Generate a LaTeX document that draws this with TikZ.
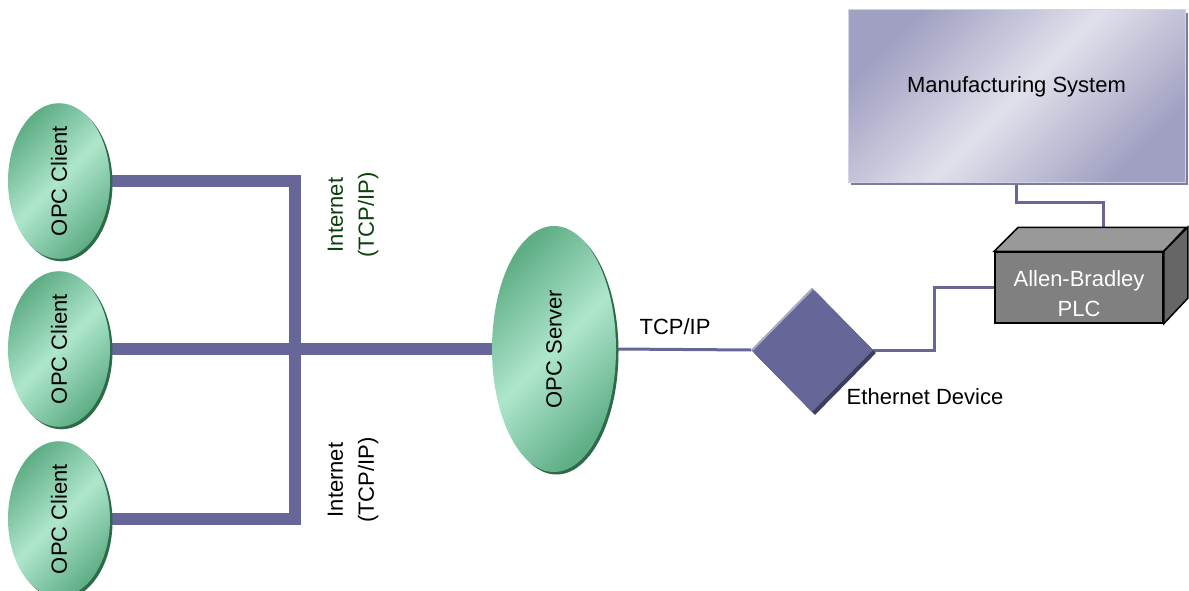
\documentclass[tikz,border=0pt]{standalone}
\usepackage{fontspec}
\setmainfont{Liberation Sans}
\usepackage{graphicx}
\usetikzlibrary{shapes.geometric,shadows,calc}
\pgfdeclarelayer{bg}
\pgfsetlayers{bg,main}
\definecolor{netcol}{HTML}{666699}
\definecolor{glight}{HTML}{AEE6CC}
\definecolor{gdark}{HTML}{5FAE86}
\definecolor{gshadow}{HTML}{2C6A48}
\definecolor{lavdark}{HTML}{A0A0C2}
\definecolor{lavlight}{HTML}{E0E0EB}
\definecolor{lavshadow}{HTML}{7C7CA0}
\definecolor{inetgreen}{HTML}{0B3F0B}
\begin{document}
\begin{tikzpicture}[x=1pt,y=-1pt,
  lbl/.style={font=\fontsize{22}{24}\selectfont},
  twoline/.style={font=\fontsize{22}{31}\selectfont, align=center},
  greenoval/.style={ellipse, inner sep=0pt, lbl,
    left color=gdark, right color=gdark, middle color=glight, shading angle=45,
    general shadow={fill=gshadow, shadow xshift=2.5pt, shadow yshift=-2.5pt}},
  client/.style={greenoval, minimum width=102pt, minimum height=148pt},
  server/.style={greenoval, minimum width=124pt, minimum height=246pt},
  trunk/.style={draw=netcol, line width=12pt, line join=miter},
  wire/.style={draw=netcol, line width=3pt},
  device/.style={diamond, aspect=1, inner sep=0pt, minimum width=122pt, minimum height=124pt,
    fill=netcol, general shadow={fill=netcol!60!black, shadow xshift=3pt, shadow yshift=-3pt}},
  plcface/.style={draw=black, line width=1.5pt, line join=miter},
]
\useasboundingbox (0,0) rectangle (1189,591);

% clients and server
\node[client] (c1) at (59,181) {\rotatebox{90}{OPC Client}};
\node[client] (c2) at (59,349) {\rotatebox{90}{OPC Client}};
\node[client] (c3) at (59,519) {\rotatebox{90}{OPC Client}};
\node[server] (srv) at (554,349) {\rotatebox{90}{OPC Server}};

% internet trunk
\coordinate (bt) at (295,181);
\coordinate (bb) at (295,519);
\begin{pgfonlayer}{bg}
  \draw[trunk] (c1.east) -- (bt) -- (bb) -- (c3.east);
  \draw[trunk] (c2.east) -- (srv.west);
\end{pgfonlayer}

\node[twoline, rotate=90, text=inetgreen] (inet1) at (353,215) {Internet\\(TCP/IP)};
\node[twoline, rotate=90] (inet2) at (353,480) {Internet\\(TCP/IP)};

% ethernet device
\node[device] (dev) at (812,350) {};
\draw[draw=netcol!55!white, line width=2pt] ($(dev.west)+(1.5,0)$) -- ($(dev.north)+(0,1.5)$);
\node[lbl] (tcp) at (675,327) {TCP/IP};
\node[lbl] (devlbl) at (925,397) {Ethernet Device};

% manufacturing system
\node[rectangle, minimum width=337pt, minimum height=172pt, inner sep=0pt,
  draw=lavlight!80!lavdark, line width=1pt,
  left color=lavdark, right color=lavdark, middle color=lavlight, shading angle=45,
  general shadow={fill=lavshadow, shadow xshift=3pt, shadow yshift=-3pt},
  lbl] (ms) at (1016.5,96) {\raisebox{3pt}[0pt][0pt]{Manufacturing System}};

% PLC block
\node[rectangle, plcface, fill=black!50, minimum width=168pt, minimum height=71pt,
  inner sep=0pt, text=white, lbl]
  (plc) at (1079,287.5)
  {\raisebox{-14pt}[0pt][0pt]{\begin{tabular}{@{}c@{}}Allen-Bradley\\[6pt]PLC\end{tabular}}};
\filldraw[plcface, fill=black!40] (plc.north west) -- ++(24,-24) -- ++(168,0) -- (plc.north east) -- cycle;
\filldraw[plcface, fill=black!60] (plc.north east) -- ++(24,-24) -- ++(0,71) -- (plc.south east) -- cycle;
\coordinate (plctop) at (1103,228);

% thin links
\begin{pgfonlayer}{bg}
  \draw[wire] (srv.east) -- (dev.west);
  \draw[wire] (dev.east) -- ++(61,0) |- (plc.west);
  \draw[wire] (ms.south) -- ++(0,20) -| (plctop);
\end{pgfonlayer}
\end{tikzpicture}
\end{document}
